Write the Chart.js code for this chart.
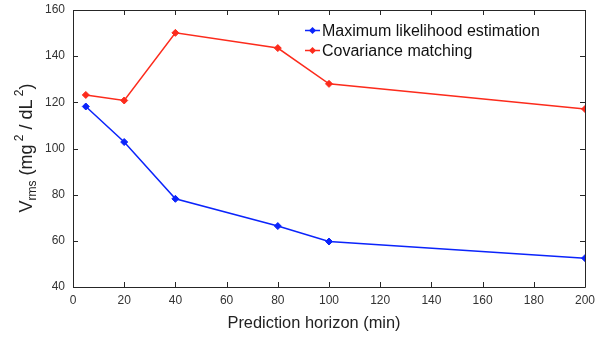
<!DOCTYPE html>
<html>
<head>
<meta charset="utf-8">
<script src="https://cdn.jsdelivr.net/npm/chart.js@4.4.1/dist/chart.umd.min.js"></script>
<style>
  html, body { margin: 0; padding: 0; background: #fff; }
  #wrap { width: 604px; height: 337px; }
</style>
</head>
<body>
<div id="wrap"><canvas id="chart" width="604" height="337"></canvas></div>
<script>
// ── Data ─────────────────────────────────────────────────────
const horizons = [5, 20, 40, 80, 100, 200];
const mleValues = [118.2, 102.8, 78.2, 66.4, 59.7, 52.5];
const covValues = [123.2, 120.8, 150.1, 143.5, 128.0, 117.1];
const xTicks = [0, 20, 40, 60, 80, 100, 120, 140, 160, 180, 200];
const yTicks = [40, 60, 80, 100, 120, 140, 160];
const seriesNames = ["Maximum likelihood estimation", "Covariance matching"];
const seriesColors = ["#0b24fb", "#fc2b1c"];
const xTitle = "Prediction horizon (min)";

const FONT = "'Liberation Sans', Arial, Helvetica, sans-serif";
const AXIS_COLOR = "#262626";

function toPoints(values) {
    return values.map((v, i) => ({ x: horizons[i], y: v }));
}

function makeDataset(i, values) {
    return {
        label: seriesNames[i],
        data: toPoints(values),
        borderColor: seriesColors[i],
        backgroundColor: seriesColors[i],
        borderWidth: 1.5,
        pointStyle: "rectRot",
        pointRadius: 3.5,
        pointBorderWidth: 1,
        tension: 0
    };
}

// ── Box, inward ticks, legend, titles ────────────────────────
const matlabAxes = {
    id: "matlabAxes",
    afterDraw(chart) {
        const ctx = chart.ctx;
        const a = chart.chartArea;
        const xs = chart.scales.x, ys = chart.scales.y;
        const tl = 5;
        ctx.save();
        ctx.strokeStyle = AXIS_COLOR;
        ctx.lineWidth = 1;
        ctx.beginPath();
        ctx.rect(Math.round(a.left) + 0.5, Math.round(a.top) + 0.5,
                 Math.round(a.right - a.left), Math.round(a.bottom - a.top));
        xTicks.forEach(v => {
            const px = Math.round(xs.getPixelForValue(v)) + 0.5;
            ctx.moveTo(px, a.bottom); ctx.lineTo(px, a.bottom - tl);
            ctx.moveTo(px, a.top); ctx.lineTo(px, a.top + tl);
        });
        yTicks.forEach(v => {
            const py = Math.round(ys.getPixelForValue(v)) + 0.5;
            ctx.moveTo(a.left, py); ctx.lineTo(a.left + tl, py);
            ctx.moveTo(a.right, py); ctx.lineTo(a.right - tl, py);
        });
        ctx.stroke();

        // legend inside the plot, no box
        ctx.font = "16px " + FONT;
        ctx.textBaseline = "middle";
        ctx.textAlign = "left";
        chart.data.datasets.forEach((ds, i) => {
            const y = 30.5 + i * 20;
            const x0 = 305;
            ctx.strokeStyle = ds.borderColor;
            ctx.lineWidth = 1.5;
            ctx.beginPath();
            ctx.moveTo(x0, y); ctx.lineTo(x0 + 15, y);
            ctx.stroke();
            ctx.fillStyle = ds.borderColor;
            ctx.beginPath();
            ctx.moveTo(x0 + 7.5, y - 3.5); ctx.lineTo(x0 + 11, y);
            ctx.lineTo(x0 + 7.5, y + 3.5); ctx.lineTo(x0 + 4, y);
            ctx.closePath(); ctx.fill();
            ctx.fillStyle = "#111";
            ctx.fillText(ds.label, x0 + 17, y + 1);
        });

        // x title
        ctx.font = "16.4px " + FONT;
        ctx.textAlign = "center";
        ctx.textBaseline = "alphabetic";
        ctx.fillStyle = "#222";
        ctx.fillText(xTitle, 314, 328);

        // y title: V_rms (mg ^2 / dL ^2 )
        ctx.textAlign = "left";
        ctx.translate(32, 148);
        ctx.rotate(-Math.PI / 2);
        const parts = [
            { t: "V", s: 18, dy: 0 },
            { t: "rms", s: 12, dy: 4 },
            { t: " (mg", s: 18, dy: 0 },
            { t: " 2", s: 12, dy: -9 },
            { t: " / dL", s: 18, dy: 0 },
            { t: " 2", s: 12, dy: -9 },
            { t: ")", s: 18, dy: 0 }
        ];
        let total = 0;
        parts.forEach(p => { ctx.font = p.s + "px " + FONT; p.w = ctx.measureText(p.t).width; total += p.w; });
        let cx = -total / 2;
        parts.forEach(p => {
            ctx.font = p.s + "px " + FONT;
            ctx.fillText(p.t, cx, p.dy);
            cx += p.w;
        });
        ctx.restore();
    }
};

// ── Chart ────────────────────────────────────────────────────
new Chart(document.getElementById("chart"), {
    type: "line",
    data: { datasets: [makeDataset(0, mleValues), makeDataset(1, covValues)] },
    options: {
        responsive: false,
        animation: false,
        devicePixelRatio: 1,
        layout: { padding: { top: 10, right: 19, left: 0, bottom: 0 } },
        plugins: { legend: { display: false }, tooltip: { enabled: false } },
        scales: {
            x: {
                type: "linear",
                min: 0, max: 200,
                afterBuildTicks: s => { s.ticks = xTicks.map(v => ({ value: v })); },
                afterFit: s => { s.height = 50; s.paddingLeft = 0; s.paddingRight = 0; },
                grid: { display: false },
                border: { display: false },
                ticks: { color: "#333", font: { family: FONT, size: 12 }, padding: -2, maxRotation: 0 }
            },
            y: {
                min: 40, max: 160,
                afterBuildTicks: s => { s.ticks = yTicks.map(v => ({ value: v })); },
                afterFit: s => { s.width = 73; s.paddingTop = 0; s.paddingBottom = 0; },
                grid: { display: false },
                border: { display: false },
                ticks: { color: "#333", font: { family: FONT, size: 12 }, padding: 0 }
            }
        }
    },
    plugins: [matlabAxes]
});
</script>
</body>
</html>
